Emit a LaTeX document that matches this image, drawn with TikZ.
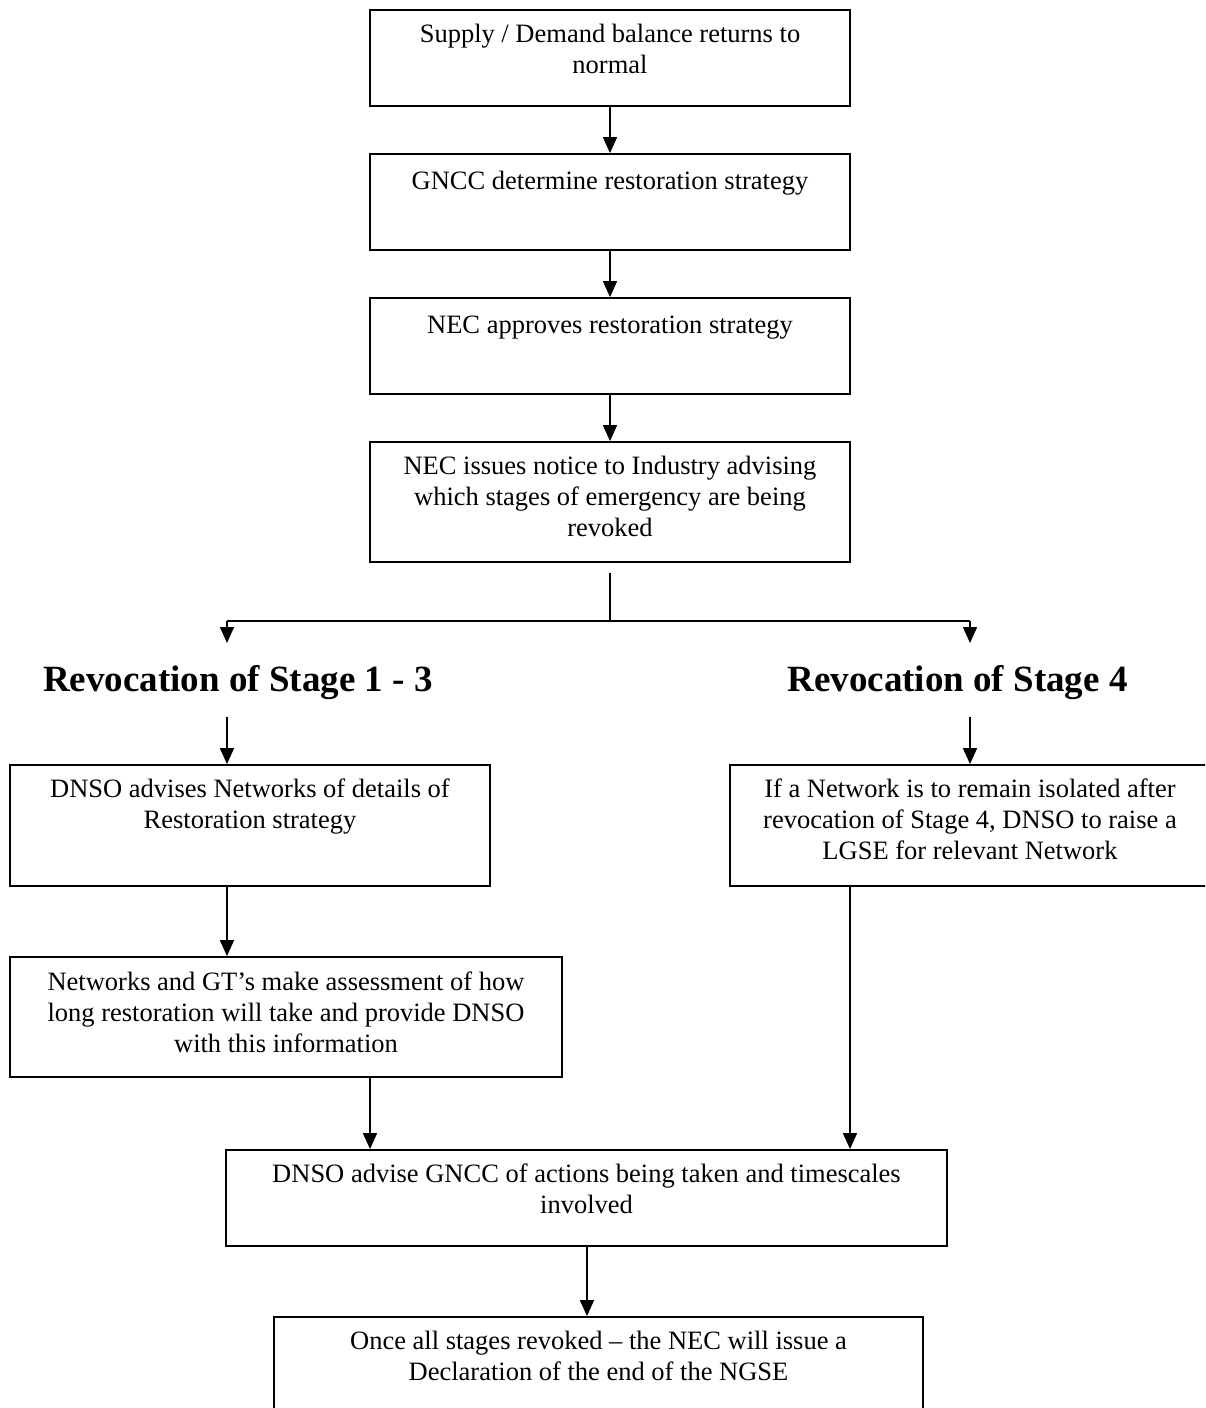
\documentclass[tikz,border=0pt]{standalone}
\usepackage{fontspec}
\setmainfont{Liberation Serif}
\usetikzlibrary{arrows.meta}
\tikzset{
  box/.style={draw, line width=0.9pt, rectangle, inner sep=0pt},
  txt/.style={anchor=north, inner sep=0pt, align=center,
    font=\fontsize{13.25}{15.5}\selectfont, execute at begin node=\strut},
  head/.style={anchor=base, inner sep=0pt, font=\fontsize{18.5}{22}\selectfont\bfseries},
  ln/.style={line width=0.75pt},
  arr/.style={line width=0.75pt, -{Triangle[length=8pt,width=7pt]}}
}
\begin{document}
\begin{tikzpicture}[x=0.5pt,y=-0.5pt]
\useasboundingbox (0,0) rectangle (1205,1408);
\clip (0,0) rectangle (1205,1408);
% boxes
\node[box, minimum width=240pt, minimum height=48pt] (b1) at (610,58) {};
\node[txt] (t1) at (610,23.3) {Supply / Demand balance returns to\\normal};
\node[box, minimum width=240pt, minimum height=48pt] (b2) at (610,202) {};
\node[txt] (t2) at (610,167.3) {GNCC determine restoration strategy};
\node[box, minimum width=240pt, minimum height=48pt] (b3) at (610,346) {};
\node[txt] (t3) at (610,311.3) {NEC approves restoration strategy};
\node[box, minimum width=240pt, minimum height=60pt] (b4) at (610,502) {};
\node[txt] (t4) at (610,455.3) {NEC issues notice to Industry advising\\which stages of emergency are being\\revoked};

\node[head] (h1) at (238,691) {Revocation of Stage 1 - 3};
\node[head] (h2) at (957.5,691) {Revocation of Stage 4};

\node[box, minimum width=240pt, minimum height=60.5pt] (b5) at (250,825.5) {};
\node[txt] (t5) at (250,778.3) {DNSO advises Networks of details of\\Restoration strategy};
\node[box, minimum width=240pt, minimum height=60.5pt] (b6) at (970,825.5) {};
\node[txt] (t6) at (970,778.3) {If a Network is to remain isolated after\\revocation of Stage 4, DNSO to raise a\\LGSE for relevant Network};
\node[box, minimum width=276pt, minimum height=60pt] (b7) at (286,1017) {};
\node[txt] (t7) at (286,971.3) {Networks and GT’s make assessment of how\\long restoration will take and provide DNSO\\with this information};
\node[box, minimum width=360.5pt, minimum height=48pt] (b8) at (586.5,1198) {};
\node[txt] (t8) at (586.5,1163.3) {DNSO advise GNCC of actions being taken and timescales\\involved};
\node[box, minimum width=324.5pt, minimum height=60pt] (b9) at (598.5,1377) {};
\node[txt] (t9) at (598.5,1330.3) {Once all stages revoked – the NEC will issue a\\Declaration of the end of the NGSE};

% connectors
\draw[arr] (b1.south) -- (b2.north);
\draw[arr] (b2.south) -- (b3.north);
\draw[arr] (b3.south) -- (b4.north);
\coordinate (s0) at (610,573);
\coordinate (j1) at (227,621);
\coordinate (j2) at (970,621);
\coordinate (e1) at (227,643);
\coordinate (e2) at (970,643);
\draw[ln] (s0) -- (s0 |- j1);
\draw[ln] (j1) -- (j2);
\draw[arr] (j1) -- (e1);
\draw[arr] (j2) -- (e2);
\coordinate (a1) at (227,717);
\coordinate (a2) at (970,717);
\draw[arr] (a1) -- (a1 |- b5.north);
\draw[arr] (a2) -- (a2 |- b6.north);
\draw[arr] (b5.south -| a1) -- (b7.north -| a1);
\coordinate (c7) at (370,1077);
\draw[arr] (b7.south -| c7) -- (b8.north -| c7);
\coordinate (c6) at (850,886);
\draw[arr] (b6.south -| c6) -- (b8.north -| c6);
\coordinate (c8) at (587,1246);
\draw[arr] (b8.south -| c8) -- (b9.north -| c8);
\end{tikzpicture}
\end{document}
